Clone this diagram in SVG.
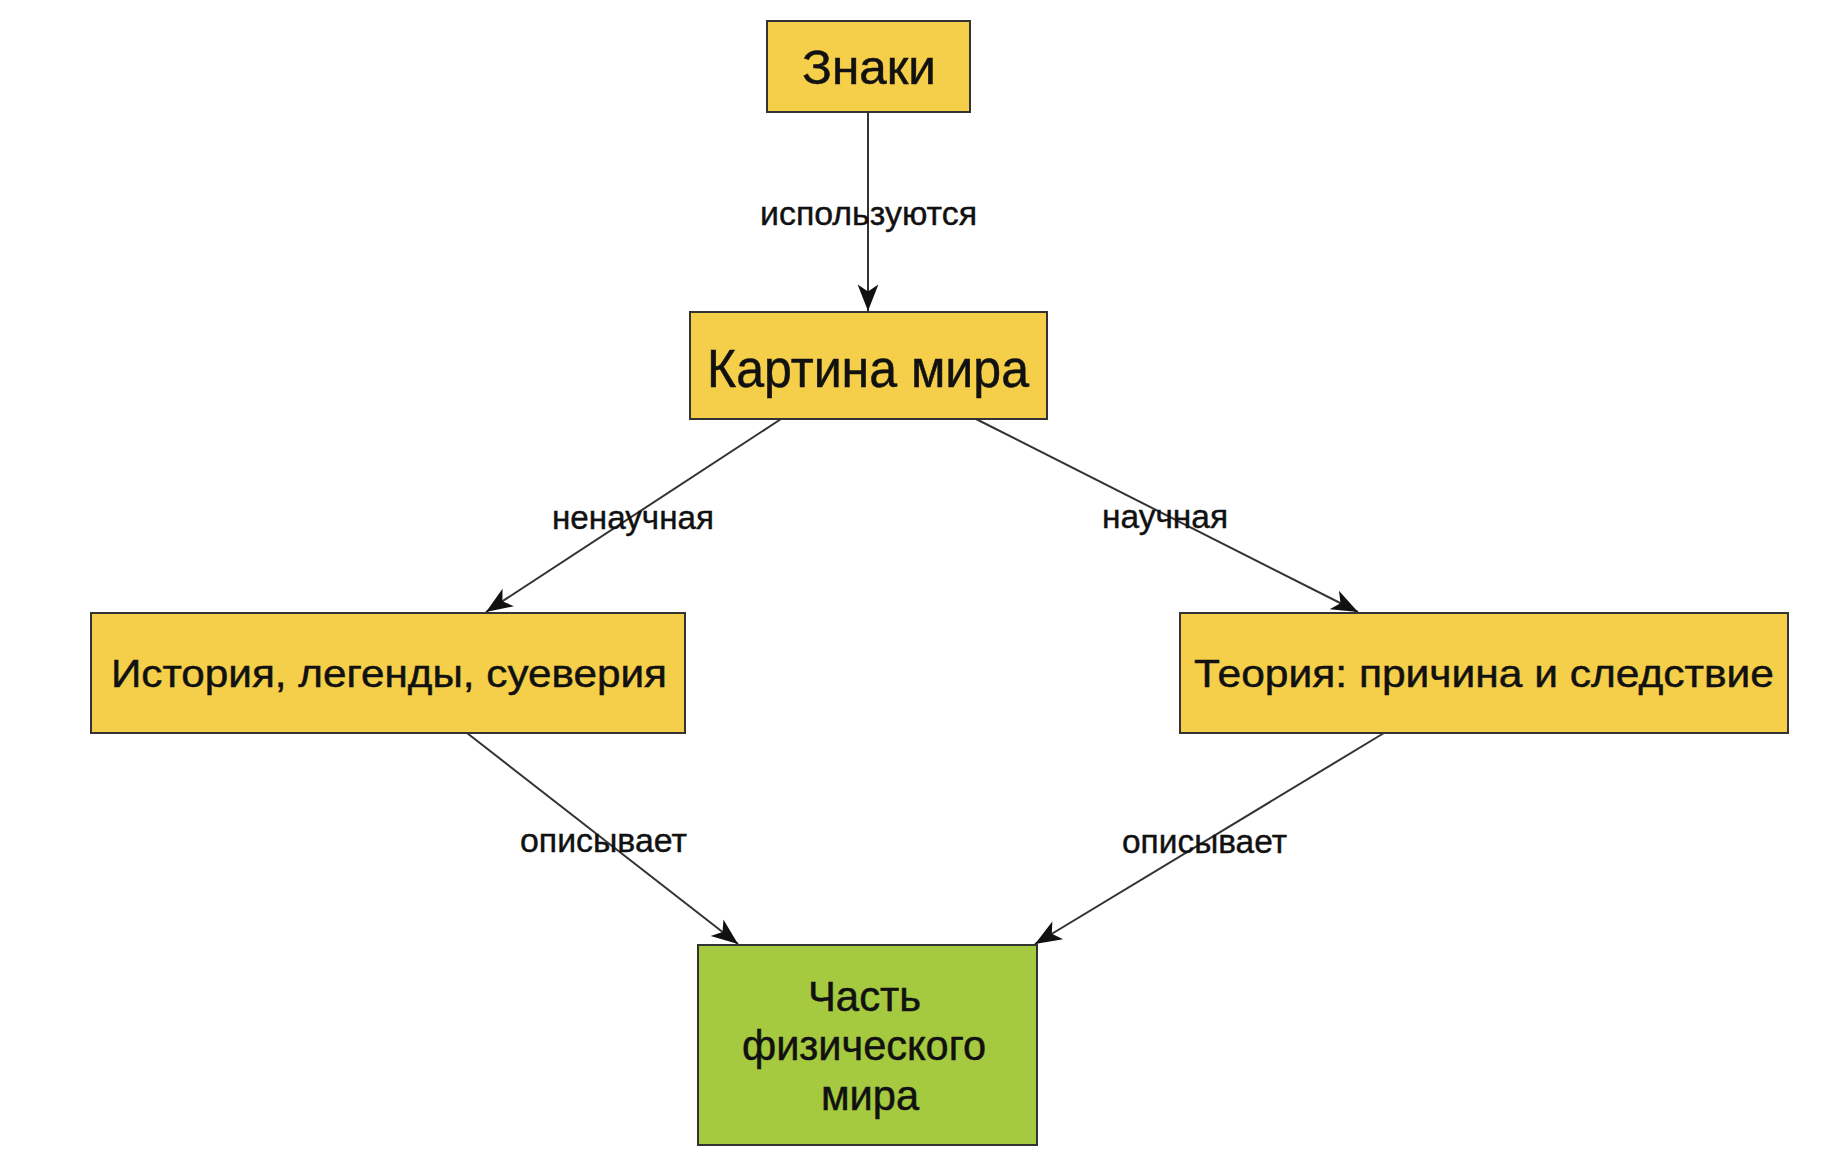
<svg xmlns="http://www.w3.org/2000/svg" width="1830" height="1166" viewBox="0 0 1830 1166">
<defs>
<style>
.box{stroke:#333333;stroke-width:2}
.y{fill:#F6CF4A}
.g{fill:#A5C93F}
.t{font-family:"Liberation Sans",Arial,sans-serif;fill:#111111;stroke:#111111;stroke-width:0.5}
.edge{stroke:#333333;stroke-width:2;fill:none;marker-end:url(#arr)}
.lbl{font-family:"Liberation Sans",Arial,sans-serif;font-size:33px;fill:#111111;stroke:#111111;stroke-width:0.4}
</style>
<marker id="arr" markerUnits="userSpaceOnUse" markerWidth="30" markerHeight="30" viewBox="-24 -11 26 22" refX="0" refY="0" orient="auto">
<path d="M0,0 L-23,-9 L-17,0 L-23,9 Z" fill="#111111"/>
</marker>
</defs>
<rect width="1830" height="1166" fill="#ffffff"/>
<g id="connectors">
<line class="edge" x1="868" y1="112" x2="868" y2="311"/>
<line class="edge" x1="781" y1="419" x2="486" y2="612"/>
<line class="edge" x1="976" y1="419" x2="1358" y2="612"/>
<line class="edge" x1="467" y1="733" x2="738" y2="944"/>
<line class="edge" x1="1384" y1="733" x2="1035" y2="944"/>
<text class="lbl" x="760" y="225" textLength="217" lengthAdjust="spacingAndGlyphs">используются</text>
<text class="lbl" x="552" y="529" textLength="162" lengthAdjust="spacingAndGlyphs">ненаучная</text>
<text class="lbl" x="1102" y="528" textLength="126" lengthAdjust="spacingAndGlyphs">научная</text>
<text class="lbl" x="520" y="852" textLength="167" lengthAdjust="spacingAndGlyphs">описывает</text>
<text class="lbl" x="1122" y="853" textLength="165" lengthAdjust="spacingAndGlyphs">описывает</text>
</g>
<g id="node-znaki">
<rect class="box y" x="767" y="21" width="203" height="91"/>
<text class="t" x="802" y="84" font-size="48" textLength="134" lengthAdjust="spacingAndGlyphs">Знаки</text>
</g>
<g id="node-kartina">
<rect class="box y" x="690" y="312" width="357" height="107"/>
<text class="t" x="707" y="387" font-size="53" textLength="322" lengthAdjust="spacingAndGlyphs">Картина мира</text>
</g>
<g id="node-istoriya">
<rect class="box y" x="91" y="613" width="594" height="120"/>
<text class="t" x="111" y="687" font-size="39" textLength="556" lengthAdjust="spacingAndGlyphs">История, легенды, суеверия</text>
</g>
<g id="node-teoriya">
<rect class="box y" x="1180" y="613" width="608" height="120"/>
<text class="t" x="1194" y="687" font-size="39" textLength="580" lengthAdjust="spacingAndGlyphs">Теория: причина и следствие</text>
</g>
<g id="node-chast">
<rect class="box g" x="698" y="945" width="339" height="200"/>
<text class="t" x="808" y="1011" font-size="42" textLength="113" lengthAdjust="spacingAndGlyphs">Часть</text>
<text class="t" x="742" y="1060" font-size="42" textLength="244" lengthAdjust="spacingAndGlyphs">физического</text>
<text class="t" x="821" y="1110" font-size="42" textLength="98" lengthAdjust="spacingAndGlyphs">мира</text>
</g>
</svg>
